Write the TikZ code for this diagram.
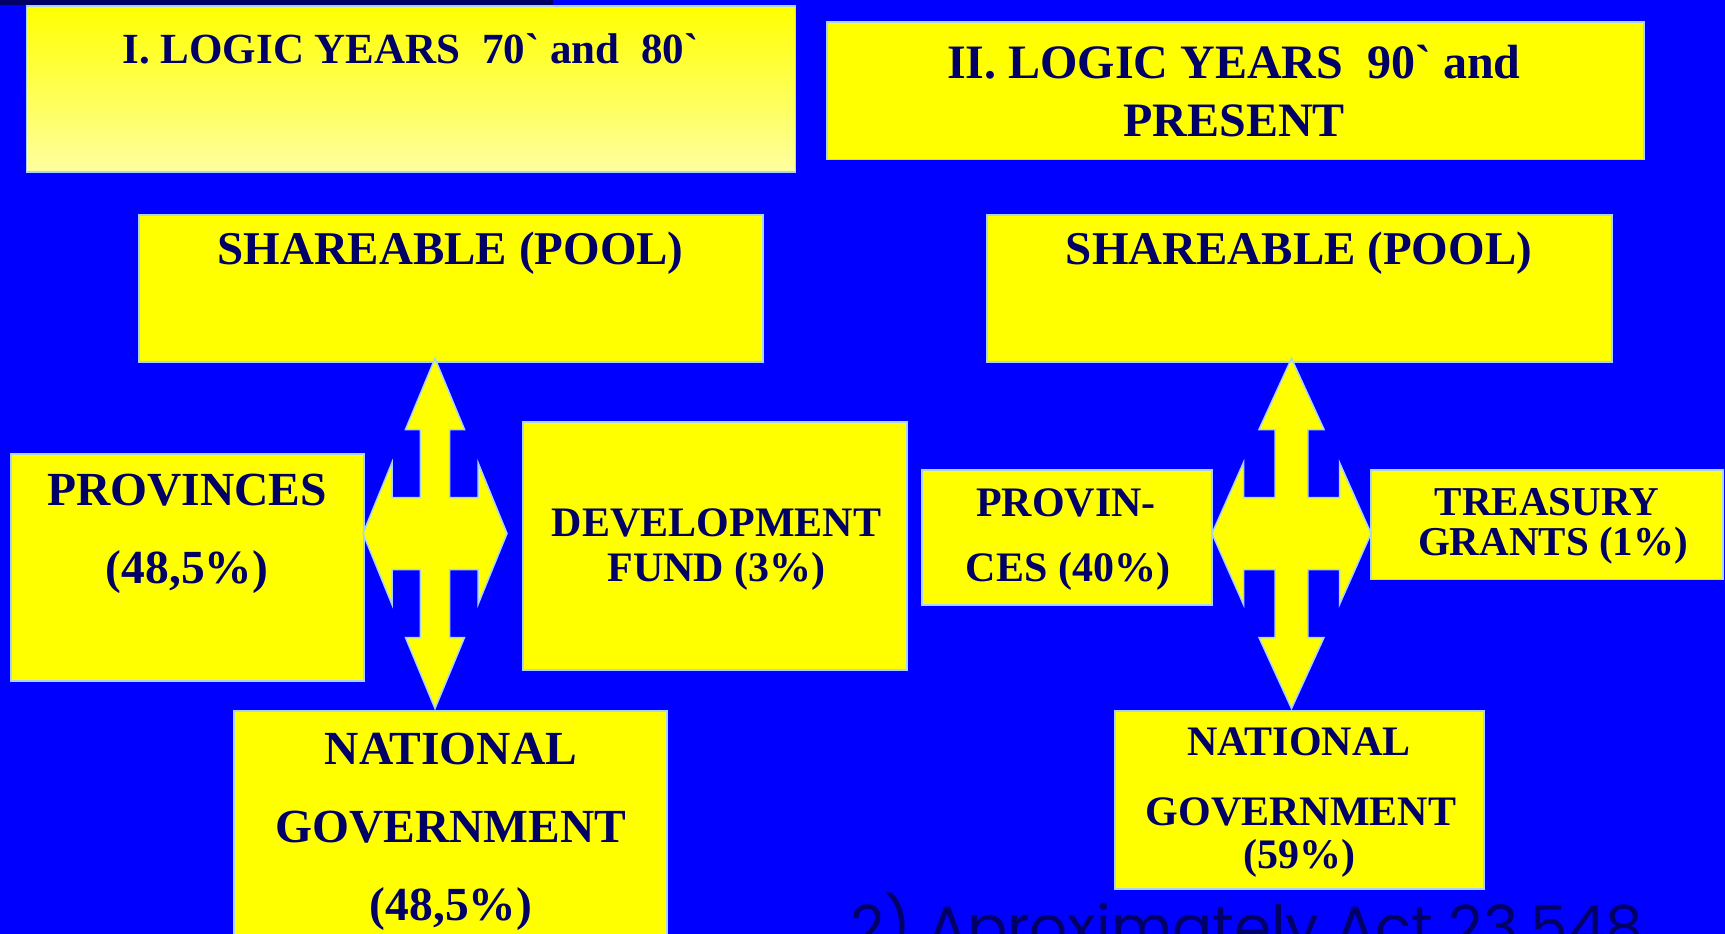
\documentclass[tikz,border=0pt]{standalone}
\usepackage{fontspec}
\newfontfamily\tnr{Liberation Serif}
\newfontfamily\popf{Poppins}
\definecolor{bgblue}{RGB}{0,0,255}
\definecolor{navy}{RGB}{0,0,102}
\definecolor{edgeblue}{RGB}{170,210,255}
\definecolor{boxyel}{RGB}{255,255,0}
\definecolor{paleyel}{RGB}{255,255,160}
\tikzset{
  box/.style={draw=edgeblue, line width=1.5pt, fill=boxyel, inner sep=0pt, outer sep=0pt},
  txt/.style={text=navy, inner sep=0pt, anchor=base, font=\tnr\bfseries\fontsize{#1}{#1}\selectfont},
  qarrow/.style={draw=edgeblue, line width=1.5pt, fill=boxyel, line join=miter},
}
\begin{document}
\begin{tikzpicture}[x=1pt,y=-1pt]
\useasboundingbox (0,0) rectangle (1725,934);
\clip (0,0) rectangle (1725,934);
\fill[bgblue] (0,0) rectangle (1725,934);
\fill[navy] (0,0) rectangle (553,5);

% boxes
\node[box, top color=boxyel, bottom color=paleyel, minimum width=769pt, minimum height=166pt] (logic1) at (411,89) {};
\node[box, minimum width=817pt, minimum height=137.5pt] (logic2) at (1235.5,90.75) {};
\node[box, minimum width=624pt, minimum height=147pt] (pool1) at (451,288.5) {};
\node[box, minimum width=625pt, minimum height=147pt] (pool2) at (1299.5,288.5) {};
\node[box, minimum width=353pt, minimum height=227pt] (prov1) at (187.5,567.5) {};
\node[box, minimum width=384pt, minimum height=248pt] (dev) at (715,546) {};
\node[box, minimum width=433pt, minimum height=260pt] (nat1) at (450.5,841) {};
\node[box, minimum width=290pt, minimum height=135pt] (prov2) at (1067,537.5) {};
\node[box, minimum width=352pt, minimum height=109.5pt] (treas) at (1547,524.75) {};
\node[box, minimum width=369pt, minimum height=178pt] (nat2) at (1299.5,800) {};

% quad arrows
\coordinate (a1) at (435,533.5);
\coordinate (a2) at (1291.5,533.5);
\path[qarrow, shift={(a1)}]
  (0,-175) -- (29.5,-104) -- (14.7,-104) -- (14.7,-36) -- (43,-36) -- (43,-71)
  -- (72,0) -- (43,71) -- (43,36) -- (14.7,36) -- (14.7,104) -- (29.5,104)
  -- (0,175) -- (-29.5,104) -- (-14.7,104) -- (-14.7,36) -- (-43,36) -- (-43,71)
  -- (-72,0) -- (-43,-71) -- (-43,-36) -- (-14.7,-36) -- (-14.7,-104) -- (-29.5,-104) -- cycle;
\path[qarrow, shift={(a2)}]
  (0,-175) -- (32.5,-104) -- (16.3,-104) -- (16.3,-36) -- (48,-36) -- (48,-71)
  -- (79.5,0) -- (48,71) -- (48,36) -- (16.3,36) -- (16.3,104) -- (32.5,104)
  -- (0,175) -- (-32.5,104) -- (-16.3,104) -- (-16.3,36) -- (-48,36) -- (-48,71)
  -- (-79.5,0) -- (-48,-71) -- (-48,-36) -- (-16.3,-36) -- (-16.3,-104) -- (-32.5,-104) -- cycle;

% texts
\node[txt=43] (t1) at (410.5,63.3) {I. LOGIC YEARS\ \ 70` and\ \ 80`};
\node[txt=48] (t2a) at (1234,79) {II. LOGIC YEARS\ \ 90` and};
\node[txt=48] (t2b) at (1234,136.7) {PRESENT};
\node[txt=47] (tp1) at (450.5,264) {SHAREABLE (POOL)};
\node[txt=47] (tp2) at (1299,264) {SHAREABLE (POOL)};
\node[txt=47.5] (tpr1a) at (187,505) {PROVINCES};
\node[txt=47.5] (tpr1b) at (187,583.3) {(48,5\%)};
\node[txt=42] (tda) at (716.5,536.7) {DEVELOPMENT};
\node[txt=42] (tdb) at (716.5,581.7) {FUND (3\%)};
\node[txt=47.5] (tn1a) at (451,764) {NATIONAL};
\node[txt=47.5] (tn1b) at (451,842) {GOVERNMENT};
\node[txt=47.5] (tn1c) at (451,920) {(48,5\%)};
\node[txt=42] (tpr2a) at (1066,516.7) {PROVIN-};
\node[txt=42] (tpr2b) at (1068,581.7) {CES (40\%)};
\node[txt=41] (ttra) at (1547,515) {TREASURY};
\node[txt=41] (ttrb) at (1553,555) {GRANTS (1\%)};
\node[txt=42] (tn2a) at (1299,755) {NATIONAL};
\node[txt=42] (tn2b) at (1301,825) {GOVERNMENT};
\node[txt=42] (tn2c) at (1299,868.3) {(59\%)};

\node[anchor=base west, text=navy, inner sep=0pt, font=\popf\fontsize{59.5}{59.5}\selectfont] (note) at (850,948) {2) Aproximately Act 23.548};
\end{tikzpicture}
\end{document}
